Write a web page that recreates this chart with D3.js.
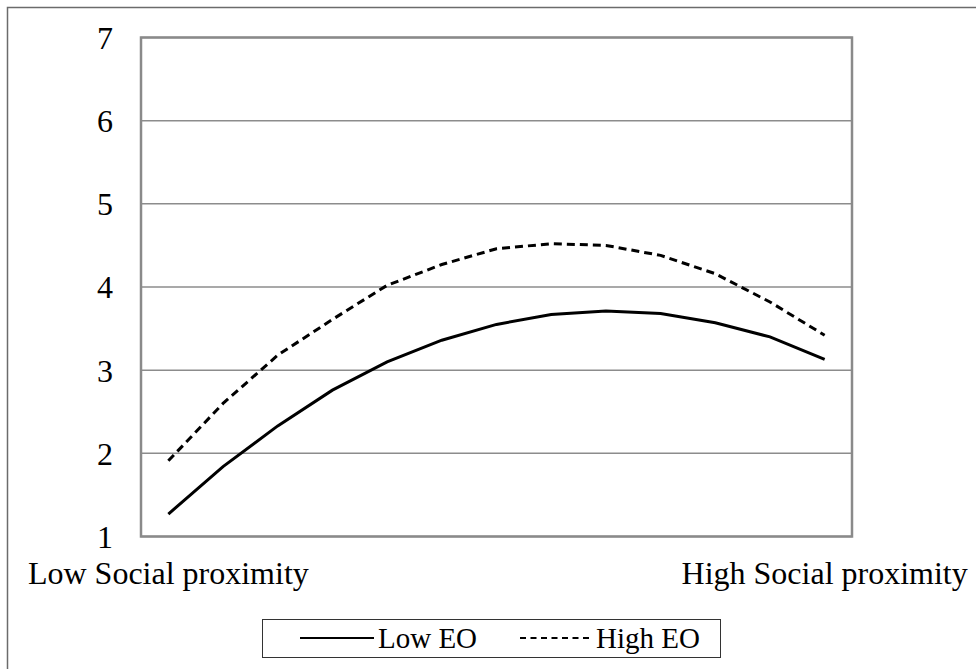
<!DOCTYPE html>
<html>
<head>
<meta charset="utf-8">
<script src="https://cdn.jsdelivr.net/npm/d3@7"></script>
<style>
    body { margin: 0; background: #fff; }
    text { font-family: "Liberation Serif", "Times New Roman", serif; fill: #000; }
</style>
</head>
<body>
<div id="chart"></div>
<script>

// categories along the x axis (only the two ends are labelled)
const categories = ["1", "2", "3", "4", "5", "6", "7", "8", "9", "10", "11", "12", "13"];
const categoryLabels = ["Low Social proximity", "", "", "", "", "", "", "", "", "", "", "", "High Social proximity"];

// series values
const lowEO  = [1.27, 1.84, 2.33, 2.76, 3.10, 3.36, 3.55, 3.67, 3.71, 3.68, 3.57, 3.40, 3.13];
const highEO = [1.91, 2.60, 3.18, 3.61, 4.02, 4.27, 4.46, 4.52, 4.50, 4.38, 4.16, 3.82, 3.42];

const yTicks = [1, 2, 3, 4, 5, 6, 7];

const seriesNames = ["Low EO", "High EO"];

let width = 976, height = 669;
let plot = { left: 141, right: 852, top: 37.5, bottom: 536.5 };

let svg = d3.select("#chart").append("svg")
    .attr("width", width)
    .attr("height", height);

// outer chart frame (runs off the right / bottom of the picture)
svg.append("rect")
    .attr("x", 7.5)
    .attr("y", 7.5)
    .attr("width", width + 20)
    .attr("height", height + 20)
    .attr("fill", "none")
    .attr("stroke", "#6b6b6b")
    .attr("stroke-width", 1.5);

let x = d3.scaleBand()
    .domain(categories)
    .range([plot.left, plot.right]);

let y = d3.scaleLinear()
    .domain([1, 7])
    .range([plot.bottom, plot.top]);

// gridlines
svg.append("g")
    .attr("class", "grid")
    .selectAll("line")
    .data(yTicks)
    .enter()
    .append("line")
    .attr("x1", plot.left)
    .attr("x2", plot.right)
    .attr("y1", d => y(d))
    .attr("y2", d => y(d))
    .attr("stroke", "#8c8c8c")
    .attr("stroke-width", 1.5);

// plot area border
svg.append("rect")
    .attr("x", plot.left)
    .attr("y", plot.top)
    .attr("width", plot.right - plot.left)
    .attr("height", plot.bottom - plot.top)
    .attr("fill", "none")
    .attr("stroke", "#8a8a8a")
    .attr("stroke-width", 2.5);

// y axis labels
let yAxis = d3.axisLeft(y)
    .tickValues(yTicks)
    .tickFormat(d3.format("d"))
    .tickSize(0)
    .tickPadding(28);

svg.append("g")
    .attr("transform", `translate(${plot.left}, 0)`)
    .call(yAxis)
    .call(g => g.select(".domain").remove())
    .selectAll("text")
    .style("font-family", "Liberation Serif")
    .style("font-size", "32px")
    .attr("dy", "0.34em");

// x axis labels
let xAxis = d3.axisBottom(x)
    .tickFormat((d, i) => categoryLabels[i])
    .tickSize(0)
    .tickPadding(0);

svg.append("g")
    .attr("transform", `translate(0, ${plot.bottom})`)
    .call(xAxis)
    .call(g => g.select(".domain").remove())
    .selectAll("text")
    .style("font-family", "Liberation Serif")
    .style("font-size", "32px")
    .attr("dy", null)
    .attr("y", 47);

// lines
let line = d3.line()
    .x((d, i) => x(categories[i]) + x.bandwidth() / 2)
    .y(d => y(d));

svg.append("path")
    .datum(lowEO)
    .attr("d", line)
    .attr("fill", "none")
    .attr("stroke", "#000")
    .attr("stroke-width", 3);

svg.append("path")
    .datum(highEO)
    .attr("d", line)
    .attr("fill", "none")
    .attr("stroke", "#000")
    .attr("stroke-width", 3)
    .attr("stroke-dasharray", "8,5");

// legend
let legend = svg.append("g").attr("class", "legend");

legend.append("rect")
    .attr("x", 262.5)
    .attr("y", 619.5)
    .attr("width", 458)
    .attr("height", 38)
    .attr("fill", "#fff")
    .attr("stroke", "#333")
    .attr("stroke-width", 1);

let legendItems = [
    { name: seriesNames[0], x1: 300, x2: 374, dash: null },
    { name: seriesNames[1], x1: 520, x2: 592, dash: "6,4.5" }
];

legendItems.forEach(d => {
    legend.append("line")
        .attr("x1", d.x1)
        .attr("x2", d.x2)
        .attr("y1", 638)
        .attr("y2", 638)
        .attr("stroke", "#000")
        .attr("stroke-width", 2)
        .attr("stroke-dasharray", d.dash);

    legend.append("text")
        .attr("x", d.x2 + 4)
        .attr("y", 648)
        .style("font-size", "29px")
        .text(d.name);
});

</script>
</body>
</html>
